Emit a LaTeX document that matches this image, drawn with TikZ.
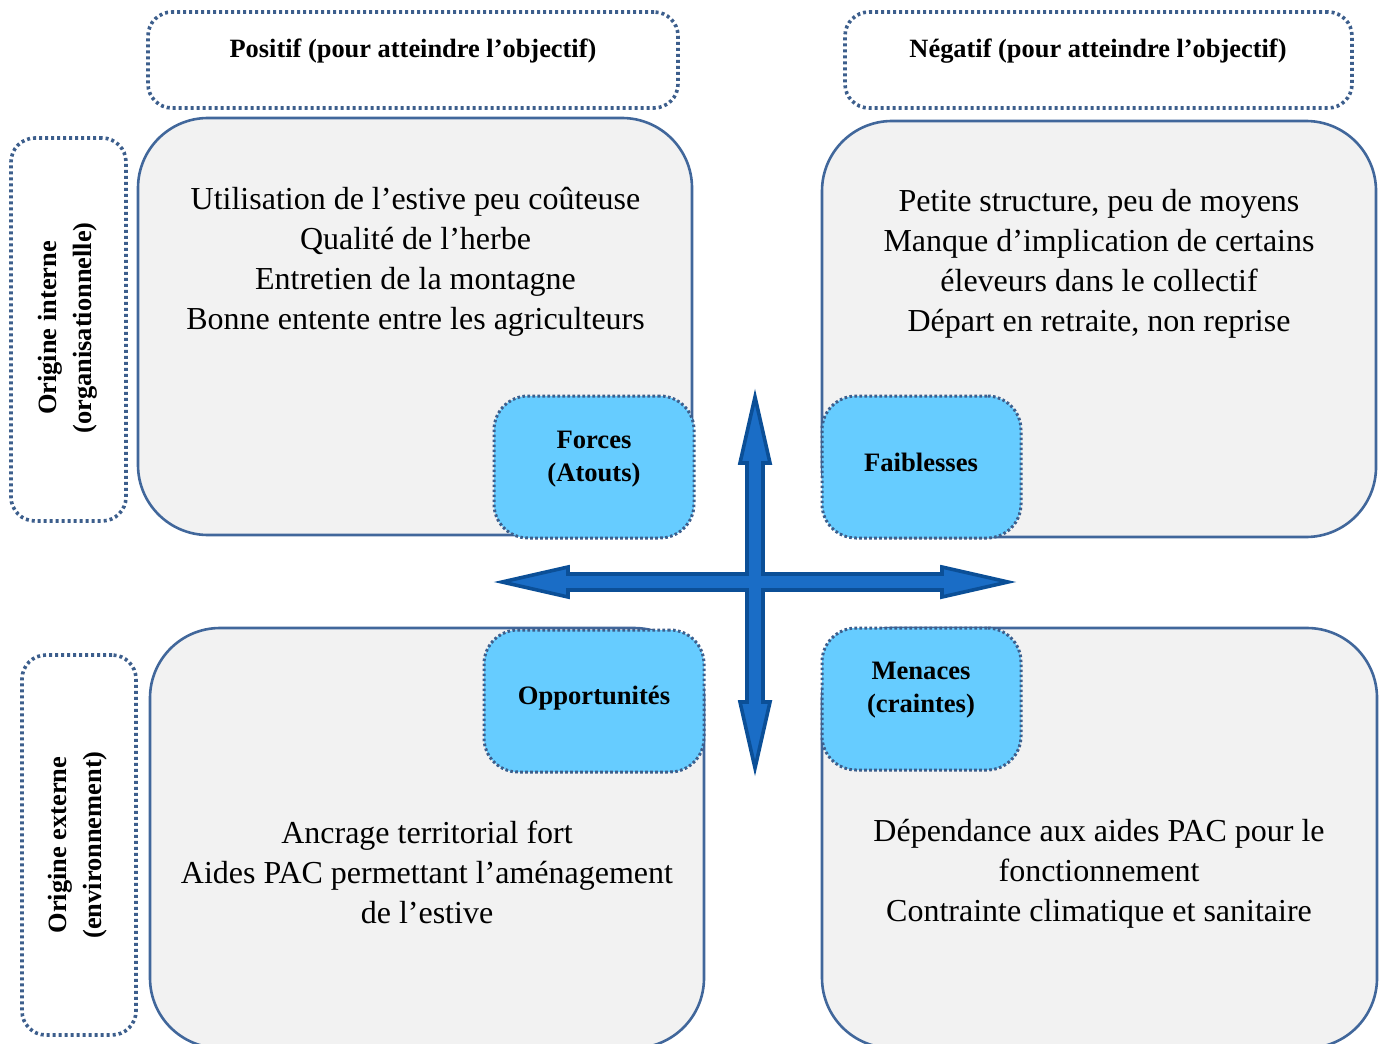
\documentclass[tikz,border=0pt]{standalone}
\usepackage{fontspec}
\setmainfont{Liberation Serif}
\usetikzlibrary{calc}
\definecolor{boxfill}{HTML}{F2F2F2}
\definecolor{boxline}{HTML}{41679B}
\definecolor{dotline}{HTML}{3C5E8C}
\definecolor{tagfill}{HTML}{66CCFF}
\definecolor{arrfill}{HTML}{1A6DC6}
\definecolor{arrline}{HTML}{0B4F97}
\begin{document}
\begin{tikzpicture}[x=0.5pt,y=-0.5pt,
  bigbox/.style={draw=boxline, fill=boxfill, line width=1.3pt, rounded corners=35pt, inner sep=0pt},
  hdrbox/.style={draw=dotline, line width=1.8pt, dash pattern=on 1.5pt off 1.5pt, rounded corners=12pt, inner sep=0pt},
  tagbox/.style={draw=dotline, fill=tagfill, line width=1.5pt, dash pattern=on 1.3pt off 1.2pt, rounded corners=17pt, inner sep=0pt},
  body/.style={align=center, font=\fontsize{16}{20}\selectfont, inner sep=0pt},
  hdr/.style={align=center, font=\bfseries\fontsize{13.2}{17.5}\selectfont, inner sep=0pt},
  tag/.style={align=center, font=\bfseries\fontsize{13.3}{16.5}\selectfont, inner sep=0pt},
  arr/.style={draw=arrline, fill=arrfill, line width=1.8pt, line join=miter}]
\useasboundingbox (0,0) rectangle (1384,1043);

% headers
\node[hdrbox, minimum width=265pt, minimum height=48pt] (hpos) at (413,60) {};
\node[hdr] (hpost) at (413,51) {Positif (pour atteindre l’objectif)};
\node[hdrbox, minimum width=253.5pt, minimum height=48pt] (hneg) at (1098.5,60) {};
\node[hdr] (hnegt) at (1098,51) {Négatif (pour atteindre l’objectif)};

% side labels
\node[hdrbox, minimum width=57.5pt, minimum height=191.5pt] (sint) at (68.5,329.5) {};
\node[hdr, rotate=90] (sintt) at (67.5,328) {Origine interne\\(organisationnelle)};
\node[hdrbox, minimum width=57pt, minimum height=190pt] (sext) at (79,845) {};
\node[hdr, rotate=90] (sextt) at (78,845) {Origine externe\\(environnement)};

% quadrant boxes
\node[bigbox, minimum width=277pt, minimum height=208.5pt] (qtl) at (415,326.5) {};
\node[bigbox, minimum width=277pt, minimum height=208pt] (qtr) at (1099,329) {};
\node[bigbox, minimum width=277pt, minimum height=210pt] (qbl) at (427,838) {};
\node[bigbox, minimum width=277.5pt, minimum height=210pt] (qbr) at (1099.5,838) {};

\node[body] (ttl) at (415.5,262) {Utilisation de l’estive peu coûteuse\\Qualité de l’herbe\\Entretien de la montagne\\Bonne entente entre les agriculteurs};
\node[body] (ttr) at (1099,264) {Petite structure, peu de moyens\\Manque d’implication de certains\\éleveurs dans le collectif\\Départ en retraite, non reprise};
\node[body] (tbl) at (427,872) {Ancrage territorial fort\\Aides PAC permettant l’aménagement\\de l’estive};
\node[body] (tbr) at (1099,874) {Dépendance aux aides PAC pour le\\fonctionnement\\Contrainte climatique et sanitaire};

% tags
\node[tagbox, minimum width=100pt, minimum height=71pt] (gf) at (594,467) {};
\node[tag] (gft) at (594,459) {Forces\\(Atouts)};
\node[tagbox, minimum width=99.5pt, minimum height=71pt] (gw) at (921.5,467) {};
\node[tag] (gwt) at (921,462) {Faiblesses};
\node[tagbox, minimum width=110pt, minimum height=71pt] (go) at (594,701) {};
\node[tag] (got) at (594,698) {Opportunités};
\node[tagbox, minimum width=99.5pt, minimum height=71pt] (gm) at (921.5,699) {};
\node[tag] (gmt) at (921,690) {Menaces\\(craintes)};

% arrows
\coordinate (vt) at (755,397);
\coordinate (vb) at (755,768);
\coordinate (hl) at (502,582);
\coordinate (hr) at (1008,582);
\path[arr] (vt) -- ($(vt)+(15,66)$) -- ($(vt)+(8,66)$) -- ($(vb)+(8,-66)$) -- ($(vb)+(15,-66)$) -- (vb)
  -- ($(vb)+(-15,-66)$) -- ($(vb)+(-8,-66)$) -- ($(vt)+(-8,66)$) -- ($(vt)+(-15,66)$) -- cycle;
\path[arr] (hl) -- ($(hl)+(66,-15)$) -- ($(hl)+(66,-8)$) -- ($(hr)+(-66,-8)$) -- ($(hr)+(-66,-15)$) -- (hr)
  -- ($(hr)+(-66,15)$) -- ($(hr)+(-66,8)$) -- ($(hl)+(66,8)$) -- ($(hl)+(66,15)$) -- cycle;
\fill[arrfill] ($(vt)+(-6,170)$) rectangle ($(vt)+(6,200)$);
\end{tikzpicture}
\end{document}
